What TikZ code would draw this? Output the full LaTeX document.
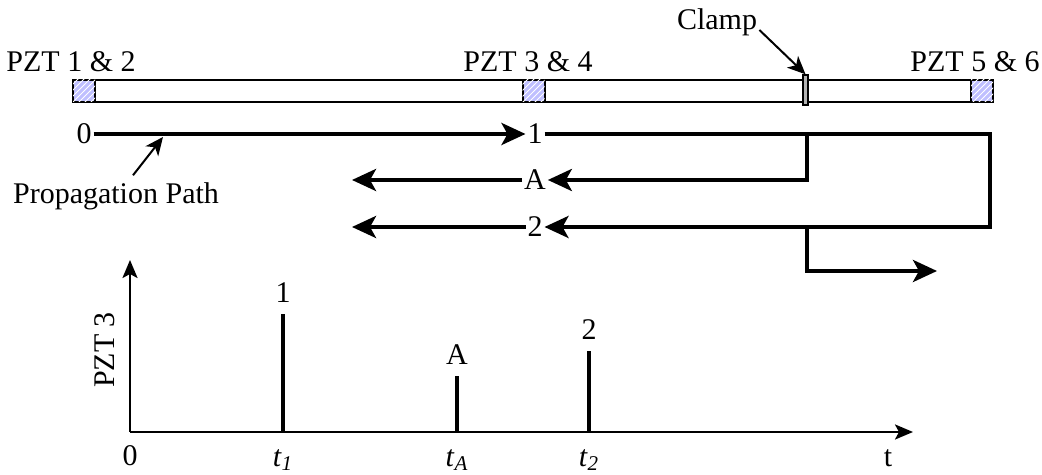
\documentclass[tikz,border=0pt]{standalone}
\usepackage{fontspec}
\setmainfont{Liberation Serif}
\usetikzlibrary{arrows.meta,patterns}

\begin{document}
\begin{tikzpicture}[x=0.5pt, y=0.5pt, font=\fontsize{15}{18}\selectfont]
\tikzstyle{lbl}=[inner sep=1pt, outer sep=0pt]
\tikzstyle{wave}=[line width=2pt, -{Stealth[length=12pt, width=11pt, inset=3pt]}]
\tikzstyle{pzt}=[draw, line width=1pt, inner sep=0pt, minimum size=11pt, fill=blue!25, postaction={pattern=north east lines, pattern color=white}]
\tikzstyle{axis}=[line width=1.3pt, -{Stealth[length=9pt, width=7.5pt, inset=2pt]}]
\tikzstyle{spike}=[line width=2.4pt, shorten >=2pt]
\tikzstyle{pointer}=[line width=1pt, -{Stealth[length=9pt, width=8pt, inset=2.5pt]}]
\useasboundingbox (0,0) rectangle (1042,475);

% plate with transducers
\draw[line width=1pt, fill=white] (73,373) rectangle (993,395);
\node[pzt] (pzt12) at (84,384) {};
\node[pzt] (pzt34) at (533.5,384) {};
\node[pzt] (pzt56) at (982,384) {};
\node[draw, line width=0.7pt, fill=gray!60, inner sep=0pt, minimum width=2.5pt, minimum height=15pt] (clampbar) at (805.5,385) {};
\node[anchor=base] (lab12) at (71,403) {PZT 1 \& 2};
\node[anchor=base] (lab34) at (528,403) {PZT 3 \& 4};
\node[anchor=base] (lab56) at (975,403) {PZT 5 \& 6};
\node[anchor=base, inner sep=1pt] (clamp) at (717,445) {Clamp};
\draw[pointer] (clamp.base east) -- (clampbar.north);

% wave paths
\node[lbl] (s0) at (84,341) {0};
\node[lbl] (s1) at (535,341) {1};
\node[lbl] (sA) at (535,295) {A};
\node[lbl] (s2) at (535,248) {2};
\coordinate (r1) at (990,341);
\coordinate (r2) at (990,248);
\coordinate (b1) at (807,341);
\coordinate (bA) at (807,295);
\coordinate (b2) at (807,248);
\coordinate (b3) at (807,204);
\coordinate (out) at (937,204);
\coordinate (lA) at (352,295);
\coordinate (l2) at (352,248);
\draw[wave] (s0) -- (s1);
\draw[wave] (s1) -- (r1) -- (r2) -- (s2);
\draw[wave] (b1) -- (bA) -- (sA);
\draw[wave] (sA) -- (lA);
\draw[wave] (s2) -- (l2);
\draw[wave] (b2) -- (b3) -- (out);
\node (prop) at (116,279) {Propagation Path};
\coordinate (ptip) at (163,338);
\draw[pointer] ([xshift=8.5pt]prop.north) -- (ptip);

% signal at PZT 3
\coordinate (o) at (130,43);
\coordinate (ytop) at (130,215);
\coordinate (xend) at (913,43);
\draw[axis] (o) -- (ytop);
\draw[axis] (o) -- (xend);
\node (zero) at (130,19) {0};
\node (tlab) at (888,17) {t};
\node[rotate=90] (ylab) at (105,125) {PZT 3};
\node (t1) at (283,15) {\textit{t}\textsubscript{\textit{1}}};
\node (tA) at (457,15) {\textit{t}\textsubscript{\textit{A}}};
\node (t2) at (589,15) {\textit{t}\textsubscript{\textit{2}}};
\node (h1) at (283,182) {1};
\node (hA) at (457,120) {A};
\node (h2) at (589,145) {2};
\draw[spike] (t1 |- o) -- (h1.south);
\draw[spike] (tA |- o) -- (hA.south);
\draw[spike] (t2 |- o) -- (h2.south);
\end{tikzpicture}
\end{document}
